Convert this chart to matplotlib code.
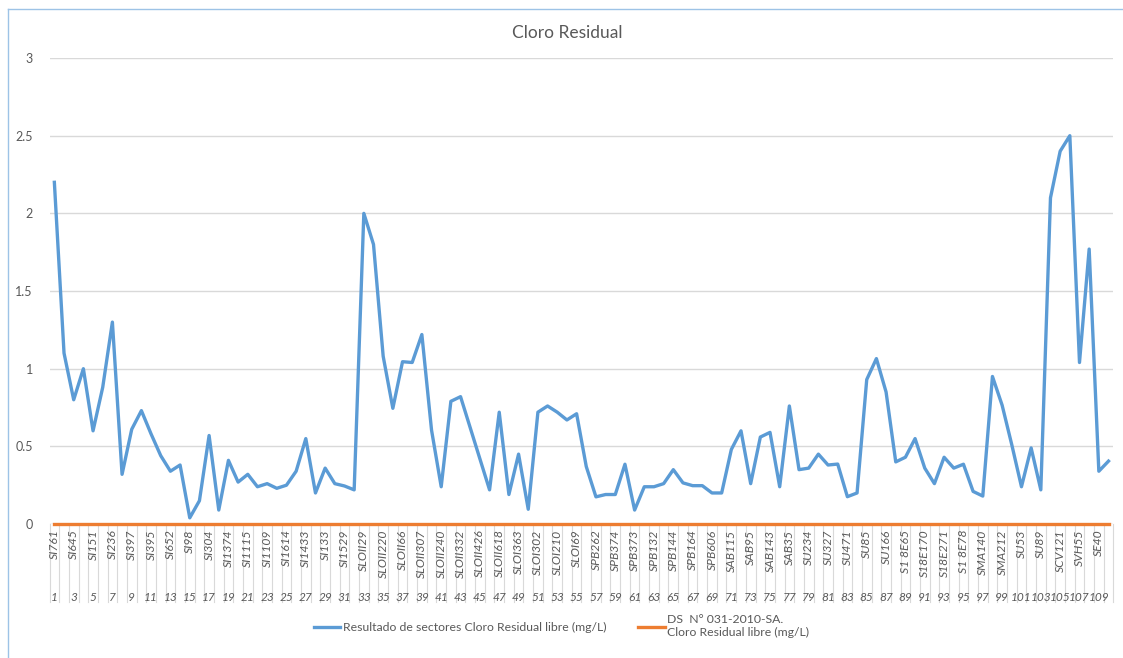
import matplotlib
matplotlib.use('Agg')
import matplotlib.pyplot as plt
import numpy as np

plt.rcParams['font.family'] = ['Lato', 'DejaVu Sans']

""" Data read from the chart """

# numero de muestra 1..110
n = np.arange(1, 111)

# codigo de sector (solo los que aparecen en el eje, cada 2 muestras)
codes = ['SI761', 'SI645', 'SI151', 'SI236', 'SI397', 'SI395', 'SI652', 'SI98', 'SI304',
         'SI1374', 'SI1115', 'SI1109', 'SI1614', 'SI1433', 'SI133', 'SI1529', 'SLOII29',
         'SLOII220', 'SLOII66', 'SLOII307', 'SLOII240', 'SLOII332', 'SLOII426', 'SLOII618',
         'SLOI363', 'SLOI302', 'SLOI210', 'SLOI69', 'SPB262', 'SPB374', 'SPB373', 'SPB132',
         'SPB144', 'SPB164', 'SPB606', 'SAB115', 'SAB95', 'SAB143', 'SAB35', 'SU234',
         'SU327', 'SU471', 'SU85', 'SU166', 'S1 8E65', 'S18E170', 'S18E271', 'S1 8E78',
         'SMA140', 'SMA212', 'SU53', 'SU89', 'SCV121', 'SVH55', 'SE40']

cloro = [2.20, 1.10, 0.80, 1.00, 0.60, 0.88, 1.30, 0.32, 0.61, 0.73,
         0.58, 0.44, 0.34, 0.38, 0.04, 0.15, 0.57, 0.09, 0.41, 0.27,
         0.32, 0.24, 0.26, 0.23, 0.25, 0.34, 0.55, 0.20, 0.36, 0.26,
         0.245, 0.22, 2.00, 1.80, 1.08, 0.745, 1.045, 1.04, 1.22, 0.605,
         0.24, 0.79, 0.82, 0.62, 0.42, 0.22, 0.72, 0.19, 0.45, 0.095,
         0.72, 0.76, 0.72, 0.67, 0.71, 0.37, 0.175, 0.19, 0.19, 0.385,
         0.09, 0.24, 0.24, 0.26, 0.35, 0.265, 0.247, 0.247, 0.20, 0.20,
         0.48, 0.60, 0.26, 0.56, 0.59, 0.24, 0.76, 0.35, 0.36, 0.45,
         0.38, 0.386, 0.176, 0.20, 0.93, 1.065, 0.85, 0.40, 0.43, 0.55,
         0.36, 0.26, 0.43, 0.36, 0.385, 0.21, 0.18, 0.95, 0.765, 0.51,
         0.24, 0.49, 0.22, 2.10, 2.40, 2.50, 1.04, 1.77, 0.34, 0.405]

norma = [0.0] * 110

""" Plot """

gray = '#595959'

fig = plt.figure(figsize=(11.23, 6.58), dpi=100)
ax = fig.add_axes([0.0441, 0.2036, 0.9473, 0.7082])

ax.plot(n, cloro, color='#5B9BD5', lw=2.4, solid_joinstyle='round', zorder=3,
        label='Resultado de sectores Cloro Residual libre (mg/L)')
ax.plot(n, norma, color='#ED7D31', lw=2.4, clip_on=False, zorder=4,
        label='DS  N° 031-2010-SA.\nCloro Residual libre (mg/L)')

ax.set_xlim(0.5, 110.5)
ax.set_ylim(0, 3)
ax.set_yticks(np.arange(0, 3.01, 0.5))
ax.set_yticklabels(['0', '0.5', '1', '1.5', '2', '2.5', '3'])
ax.grid(axis='y', color='#D9D9D9', lw=1)
ax.set_axisbelow(True)
for s in ax.spines.values():
    s.set_visible(False)
ax.tick_params(axis='y', length=0, labelsize=9, labelcolor=gray, pad=12)
ax.set_xticks([])

# eje de categorias de dos niveles
tr = ax.get_xaxis_transform()
for b in np.arange(0.5, 111, 1):
    ax.plot([b, b], [0, -0.167], transform=tr, color='#D9D9D9', lw=0.8, clip_on=False)
for i, c in enumerate(codes):
    x = n[2 * i]
    ax.text(x, -0.012, c, transform=tr, rotation=90, ha='center', va='top',
            fontsize=8.7, style='italic', color=gray)
    ax.text(x, -0.157, str(x), transform=tr, ha='center', va='center',
            fontsize=8.6, style='italic', color=gray)

fig.text(0.505, 0.95, 'Cloro Residual', ha='center', va='center', fontsize=12.5, color=gray)

leg = fig.legend(loc='center', bbox_to_anchor=(0.5, 0.048), ncol=2, frameon=False,
                 fontsize=8.8, handlelength=2.2, columnspacing=2.6, handletextpad=0.2)
for t in leg.get_texts():
    t.set_color(gray)

# borde del grafico
fig.add_artist(plt.Line2D([0.0075, 0.0075], [0.0, 0.986], color='#9DC3E6', lw=1))
fig.add_artist(plt.Line2D([0.0075, 1.0], [0.986, 0.986], color='#9DC3E6', lw=1))

fig.savefig('out.png', dpi=100)
